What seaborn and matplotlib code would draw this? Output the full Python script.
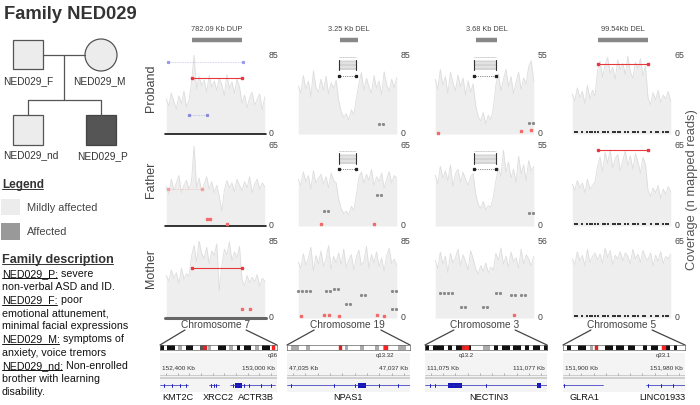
import numpy as np
import pandas as pd
import matplotlib
matplotlib.use("Agg")
import matplotlib.pyplot as plt
from matplotlib.colors import ListedColormap
from matplotlib.patches import Rectangle, Circle
import seaborn as sns

W, H = 700, 405

# ---- data ----
row_names = ["Proband", "Father", "Mother"]
chrom_names = ["Chromosome 7", "Chromosome 19", "Chromosome 3", "Chromosome 5"]
event_names = ["782.09 Kb DUP", "3.25 Kb DEL", "3.68 Kb DEL", "99.54Kb DEL"]
event_start = [10, 16.5, 16, 10]
event_end = [30, 23.5, 24.5, 30]
y_max = [[85, 85, 55, 65], [65, 65, 55, 65], [85, 85, 56, 65]]

prob_chr7 = [38, 30, 44, 35, 27, 41, 33, 46, 29, 36, 55, 85, 48, 62, 52, 58, 45, 63, 50, 57,
             47, 60, 53, 41, 64, 49, 56, 44, 59, 51, 33, 42, 28, 39, 45, 31, 37, 43, 26, 40]
prob_chr19 = [52, 44, 63, 48, 57, 40, 68, 50, 45, 59, 47, 62, 43, 55, 49, 58, 36, 24, 18, 22,
              15, 26, 21, 38, 54, 66, 47, 60, 51, 44, 63, 49, 57, 42, 67, 53, 46, 59, 50, 61]
prob_chr3 = [38, 31, 45, 34, 40, 28, 43, 36, 30, 41, 33, 39, 27, 37, 29, 35, 20, 12, 9, 15,
             7, 13, 10, 18, 34, 42, 30, 38, 45, 33, 40, 28, 36, 43, 31, 39, 35, 47, 51, 37]
prob_chr5 = [33, 27, 38, 30, 35, 25, 40, 29, 36, 31, 52, 60, 47, 57, 63, 50, 55, 45, 61, 53,
             58, 49, 64, 51, 46, 59, 54, 62, 48, 56, 30, 24, 34, 28, 36, 26, 32, 29, 35, 27]
fa_chr7 = [32, 26, 38, 29, 35, 41, 27, 33, 37, 30, 36, 65, 31, 39, 28, 34, 40, 30, 36, 27,
           33, 24, 12, 29, 37, 31, 35, 28, 38, 33, 29, 36, 31, 40, 27, 34, 38, 30, 35, 32]
fa_chr19 = [38, 33, 44, 36, 41, 30, 45, 35, 39, 42, 34, 40, 31, 43, 37, 35, 22, 14, 10, 12,
            9, 16, 13, 25, 39, 44, 35, 42, 37, 46, 33, 40, 36, 43, 31, 38, 44, 35, 41, 39]
fa_chr3 = [35, 29, 41, 33, 38, 31, 42, 27, 36, 39, 30, 37, 32, 28, 34, 36, 22, 15, 12, 17,
           11, 14, 13, 20, 31, 40, 34, 52, 37, 44, 33, 39, 30, 48, 36, 42, 31, 45, 38, 41]
fa_chr5 = [34, 29, 37, 31, 35, 27, 38, 30, 33, 36, 48, 56, 44, 60, 51, 62, 47, 55, 58, 45,
           53, 61, 49, 57, 46, 59, 52, 43, 56, 50, 29, 24, 31, 27, 33, 22, 30, 26, 32, 28]
mo_chr7 = [47, 41, 53, 44, 50, 38, 55, 43, 49, 46, 68, 80, 62, 85, 71, 66, 78, 60, 74, 69,
           82, 30, 58, 76, 70, 84, 63, 73, 67, 79, 42, 36, 47, 39, 45, 40, 48, 35, 44, 41]
mo_chr19 = [62, 55, 71, 58, 66, 78, 52, 69, 60, 74, 57, 65, 80, 54, 68, 61, 72, 59, 76, 56,
            64, 70, 53, 67, 75, 58, 63, 79, 55, 70, 61, 73, 57, 66, 52, 69, 77, 60, 65, 58]
mo_chr3 = [42, 36, 48, 39, 45, 33, 47, 40, 44, 50, 38, 46, 41, 35, 49, 43, 36, 32, 38, 34,
           40, 33, 37, 35, 47, 42, 51, 39, 45, 37, 48, 41, 44, 36, 50, 39, 46, 43, 38, 45]
mo_chr5 = [50, 45, 56, 48, 53, 44, 58, 47, 52, 55, 49, 54, 46, 59, 51, 57, 45, 53, 50, 56,
           48, 55, 52, 46, 58, 50, 54, 47, 57, 51, 49, 55, 44, 53, 48, 56, 46, 52, 50, 54]

coverage = [[prob_chr7, prob_chr19, prob_chr3, prob_chr5],
            [fa_chr7, fa_chr19, fa_chr3, fa_chr5],
            [mo_chr7, mo_chr19, mo_chr3, mo_chr5]]

# CNV calls (row, col, reads level)
cnv_calls = [(0, 0, 60), (0, 3, 58), (1, 3, 62), (2, 0, 55)]
# split-read glyphs above deletions (row, col)
del_glyphs = [(0, 1), (0, 2), (1, 1), (1, 2)]
# small paired gray dots (row, col, pos, reads)
gray_pairs = [(0, 1, 32, 11), (0, 2, 37, 8), (1, 1, 10, 12), (1, 1, 31, 25), (1, 2, 37, 9),
              (2, 1, 0, 30), (2, 1, 3, 30), (2, 1, 11, 30), (2, 1, 14, 32), (2, 1, 19, 16),
              (2, 1, 25, 25), (2, 1, 37, 30), (2, 1, 37, 10), (2, 2, 2, 18), (2, 2, 5, 18),
              (2, 2, 10, 8), (2, 2, 19, 8), (2, 2, 24, 18), (2, 2, 30, 17), (2, 2, 34, 17)]
# red marks (row, col, pos, reads)
red_marks = [(0, 2, 1, 1), (0, 2, 34, 2), (0, 2, 38, 3), (1, 0, 16, 6), (1, 0, 17.5, 6),
             (1, 0, 24, 2), (1, 1, 9, 2), (1, 1, 30, 2), (2, 0, 30, 10), (2, 0, 33, 10),
             (2, 1, 1, 2), (2, 1, 10, 3), (2, 1, 12, 3), (2, 1, 16, 2), (2, 1, 31, 3),
             (2, 1, 34, 2), (2, 2, 31, 2)]
bottom_dots = [1, 2, 4, 6, 7, 8, 9, 10, 12, 13, 14, 16, 17, 18, 19, 21, 22, 24, 25, 26,
               28, 29, 31, 33, 34, 36, 37, 38]

band_labels = ["q36", "q13.32", "q13.2", "q33.1"]
chr7_bands = [1, 0, 1, 1, 0, 2, 0, 1, 1, 0, 0, 3, 0, 2, 0, 0, 1, 1, 0, 2, 0, 1, 0, 1, 1, 0, 2, 0, 1, 1, 0, 0]
chr19_bands = [0, 2, 2, 0, 0, 2, 0, 0, 0, 0, 0, 0, 0, 0, 0, 2, 0, 0, 0, 2, 0, 0, 0, 2, 0, 2, 0, 0, 0, 2, 2, 0]
chr3_bands = [1, 0, 1, 1, 1, 0, 1, 0, 1, 1, 0, 1, 0, 0, 0, 2, 2, 0, 1, 0, 1, 1, 0, 1, 1, 0, 1, 0, 1, 1, 0, 1]
chr5_bands = [0, 1, 0, 0, 1, 1, 0, 2, 0, 0, 0, 1, 1, 0, 1, 1, 0, 1, 1, 0, 0, 1, 0, 1, 1, 0, 0, 1, 0, 1, 0, 0]
centromere_at = [0.38, 0.43, 0.31, 0.27]
locus_at = [0.965, 0.80, 0.34, 0.82]
kb_left = ["152,400 Kb", "47,035 Kb", "111,075 Kb", "151,900 Kb"]
kb_right = ["153,000 Kb", "47,037 Kb", "111,077 Kb", "151,980 Kb"]
gene_names = [["KMT2C", "XRCC2", "ACTR3B"], ["NPAS1"], ["NECTIN3"], ["GLRA1", "LINC01933"]]
gene_label_x = [[0.15, 0.5, 0.82], [0.5], [0.52], [0.18, 0.81]]
gene_spans = [[(0.0, 0.24), (0.42, 0.5), (0.6, 0.98)], [(0.0, 1.0)], [(0.0, 1.0)], [(0.0, 0.33), (0.68, 1.0)]]
gene_exons = [[0.03, 0.1, 0.17, 0.22, 0.44, 0.46, 0.48, 0.62, 0.66, 0.68, 0.72, 0.76, 0.86, 0.95],
              [0.03, 0.38, 0.55, 0.75, 0.9],
              [0.04, 0.08, 0.2, 0.23, 0.26, 0.28, 0.5, 0.93],
              [0.01, 0.7, 0.8, 0.9]]
gene_blocks = [[(0.64, 0.7)], [(0.58, 0.64)], [(0.19, 0.3), (0.92, 0.95)], []]

# ---- style ----
sns.set_theme(style="white")
plt.rcParams["font.family"] = ["Liberation Sans", "DejaVu Sans"]
TXT = "#333333"

fig = plt.figure(figsize=(7, 4.05), dpi=100)
ov = fig.add_axes([0, 0, 1, 1])
ov.set_xlim(0, W)
ov.set_ylim(H, 0)
ov.axis("off")
renderer = fig.canvas.get_renderer()


def px_axes(x, y, w, h):
    a = fig.add_axes([x / W, 1 - (y + h) / H, w / W, h / H])
    a.patch.set_alpha(0)
    return a


def text_box(t):
    bb = t.get_window_extent(renderer)
    inv = ov.transData.inverted()
    (x0, y0), (x1, y1) = inv.transform([[bb.x0, bb.y0], [bb.x1, bb.y1]])
    return x0, x1, max(y0, y1)


def underline_text(x, y, s, rest="", **kw):
    t = ov.text(x, y, s, **kw)
    x0, x1, _ = text_box(t)
    ov.plot([x0, x1 - 1], [y + 1.3, y + 1.3], color=kw.get("color", TXT), lw=0.7)
    if rest:
        ov.text(x1, y, rest, **kw)


# ---- title and pedigree ----
ov.text(4, 19, "Family NED029", fontsize=13.2, fontweight="bold", color=TXT)
ped_fc = "#ececec"
ov.add_patch(Rectangle((13, 40), 30, 29, fc=ped_fc, ec="#555555", lw=0.9))
ov.add_patch(Circle((101, 55), 16, fc=ped_fc, ec="#555555", lw=0.9))
ov.plot([43, 85], [55, 55], color="#555555", lw=0.9)
ov.plot([64, 64], [55, 100], color="#555555", lw=0.9)
ov.plot([28, 101, 101], [100, 100, 115], color="#555555", lw=0.9)
ov.plot([28, 28], [100, 115], color="#555555", lw=0.9)
ov.add_patch(Rectangle((13, 115), 30, 30, fc=ped_fc, ec="#555555", lw=0.9))
ov.add_patch(Rectangle((86, 115), 30, 30, fc="#555555", ec="#444444", lw=0.9))
for x, y, s in [(3, 84, "NED029_F"), (73, 84, "NED029_M"), (3, 158, "NED029_nd"), (77, 159, "NED029_P")]:
    ov.text(x, y, s, fontsize=7.3, color=TXT)

# ---- legend ----
underline_text(2, 188, "Legend", fontsize=8.5, fontweight="bold", color=TXT)
ov.add_patch(Rectangle((1, 199), 19, 16, fc="#ececec", ec="none"))
ov.add_patch(Rectangle((1, 223), 19, 17, fc="#999999", ec="none"))
ov.text(27, 211, "Mildly affected", fontsize=7.9, color="#444444")
ov.text(27, 235, "Affected", fontsize=7.9, color="#444444")

# ---- family description ----
underline_text(2, 263, "Family description", fontsize=9.1, fontweight="bold", color=TXT)
desc = [("NED029_P:", " severe"), ("", "non-verbal ASD and ID."), ("NED029_F:", " poor"),
        ("", "emotional attunement,"), ("", "minimal facial expressions"),
        ("NED029_M:", " symptoms of"), ("", "anxiety, voice tremors"),
        ("NED029_nd:", " Non-enrolled"), ("", "brother with learning"), ("", "disability.")]
for i, (u, rest) in enumerate(desc):
    y = 277 + i * 13.1
    if u:
        underline_text(2, y, u, rest, fontsize=7.7, color="#111111")
    else:
        ov.text(2, y, rest, fontsize=7.7, color="#111111")

# ---- coverage panels ----
col_x = [165, 297, 434, 571]
col_w = 101
row_y = [55, 146, 241]
row_h = [79, 80, 77]
row_label_y = [88, 180, 268]
axes = [[None] * 4 for _ in range(3)]


def read_glyph(ax, x0, x1, top, step):
    tr = ax.get_xaxis_transform()
    ax.plot([x0, x1], [top, top], color="#999999", lw=0.4, ls=(0, (2, 1)), transform=tr, clip_on=False)
    ax.fill_between([x0, x1], top - 3.2 * step, top - step, color="#e2e2e2", transform=tr, lw=0)
    for k in range(1, 4):
        ax.plot([x0, x1], [top - k * step] * 2, color="#aaaaaa", lw=0.35, transform=tr)
    ax.plot([x0, x0], [top - 3.2 * step, top - 0.6 * step], color="#333333", lw=0.8, transform=tr)
    ax.plot([x1, x1], [top - 3.2 * step, top - 0.6 * step], color="#333333", lw=0.8, transform=tr)
    ax.plot([x0, x1], [top - 4.6 * step] * 2, color="#222222", lw=0.5, ls=":", marker="s",
            ms=1.4, transform=tr)


for r in range(3):
    for c in range(4):
        ax = px_axes(col_x[c], row_y[r], col_w, row_h[r])
        axes[r][c] = ax
        vals = coverage[r][c]
        df = pd.DataFrame({"pos": np.arange(len(vals)), "reads": vals})
        ax.fill_between(df["pos"], df["reads"], color="#eeeeee", lw=0)
        sns.lineplot(data=df, x="pos", y="reads", ax=ax, color="#dddddd", lw=0.6)
        ax.set_xlim(-0.5, len(vals) - 0.5)
        ax.set_ylim(0, y_max[r][c])
        ax.axis("off")
        ax.text(1.025, 1.0, str(y_max[r][c]), transform=ax.transAxes, fontsize=6.3,
                color="#444444", va="center", ha="left")
        ax.text(1.025, 0.0, "0", transform=ax.transAxes, fontsize=6.3,
                color="#444444", va="center", ha="left")
        if c == 3:
            dots = pd.DataFrame({"pos": bottom_dots, "reads": [y_max[r][c] * 0.02] * len(bottom_dots)})
            sns.scatterplot(data=dots, x="pos", y="reads", ax=ax, color="#333333", s=2.5,
                            marker="s", linewidth=0, clip_on=False)
    ov.text(151, row_label_y[r], row_names[r], rotation=90, fontsize=9, color="#444444",
            ha="center", va="center")

# bottom lines
for r in (0, 1):
    axes[r][0].axhline(0, color="#111111", lw=1.2, clip_on=False)
axes[2][0].axhline(0, color="#666666", lw=2.2, clip_on=False)

# event bars above the proband row
for c in range(4):
    ax = axes[0][c]
    tr = ax.get_xaxis_transform()
    ax.plot([event_start[c], event_end[c]], [1.19, 1.19], color="#888888", lw=3.2,
            transform=tr, clip_on=False, solid_capstyle="butt")
    ax.text((event_start[c] + event_end[c]) / 2, 1.32, event_names[c], transform=tr,
            fontsize=5.3, color="#444444", ha="center", va="center")

# CNV calls
for r, c, lvl in cnv_calls:
    axes[r][c].plot([event_start[c], event_end[c]], [lvl, lvl], color="#e8383d", lw=0.8,
                    marker="s", ms=1.8)
axes[0][0].plot([0.5, 30.5], [78, 78], color="#9999ee", lw=0.45, ls=":", marker="s", ms=1.3)
axes[0][0].plot([9, 16], [20, 20], color="#8888dd", lw=0.45, ls=":", marker="s", ms=1.3)
axes[1][0].plot([0.5, 14], [30, 30], color="#f4a0a0", lw=0.45, ls=":", marker="s", ms=1.5)

for r, c in del_glyphs:
    read_glyph(axes[r][c], event_start[c] - 0.5, event_end[c] - 0.5, 0.97 if r == 0 else 0.94, 0.05)

for r, c, p, v in gray_pairs:
    axes[r][c].plot([p, p + 1.6], [v, v], color="#888888", lw=0.35, ls=":", marker="s", ms=1.1)
for r, c, p, v in red_marks:
    axes[r][c].plot([p], [v], color="#f26b6b", marker="s", ms=1.6, clip_on=False)

ov.text(692, 190, "Coverage (n mapped reads)", rotation=90, fontsize=9.3, color="#555555",
        ha="center", va="center")

# ---- chromosome labels, ideograms, gene tracks ----
igv_x = [(160, 277), (287, 410), (425, 547), (563, 685)]
bands = [chr7_bands, chr19_bands, chr3_bands, chr5_bands]
band_cmap = ListedColormap(["#ffffff", "#111111", "#aaaaaa", "#555555"])
for c in range(4):
    xc = col_x[c] + col_w / 2
    t = ov.text(xc, 328, chrom_names[c], fontsize=7.3, color="#444444", ha="center")
    x0, x1, _ = text_box(t)
    g0, g1 = igv_x[c]
    ov.plot([x0 + 4, g0], [330, 345], color="#444444", lw=0.9)
    ov.plot([x1 - 4, g1], [330, 345], color="#444444", lw=0.9)

    ov.add_patch(Rectangle((g0, 353), g1 - g0, 39, fc="#f4f4f4", ec="none"))

    ia = px_axes(g0, 345, g1 - g0, 5)
    ia.imshow(np.array([bands[c]]), cmap=band_cmap, vmin=0, vmax=3, aspect="auto",
              extent=[0, 1, 0, 1])
    ia.axvspan(centromere_at[c] - 0.01, centromere_at[c] + 0.01, color="#d62728")
    ia.axvspan(locus_at[c] - 0.012, locus_at[c] + 0.012, color="#ff2020")
    ia.set_xlim(0, 1)
    ia.set_ylim(0, 1)
    ia.set_xticks([])
    ia.set_yticks([])
    for s in ia.spines.values():
        s.set_color("#666666")
        s.set_linewidth(0.5)
    ia.text(locus_at[c], -0.7, band_labels[c], transform=ia.transAxes, fontsize=4.3,
            color="#333333", ha="center", va="top")

    ga = px_axes(g0, 362, g1 - g0, 32)
    ga.set_xlim(0, 1)
    ga.set_ylim(32, 0)
    ga.axis("off")
    ga.text(0.02, 6, kb_left[c], fontsize=4.6, color="#333333", ha="left", va="center")
    ga.text(0.98, 6, kb_right[c], fontsize=4.6, color="#333333", ha="right", va="center")
    ga.plot([0, 1], [12.5, 12.5], color="#bbbbbb", lw=0.5)
    for tx in np.linspace(0.05, 0.95, 10):
        ga.plot([tx, tx], [10.5, 12.5], color="#888888", lw=0.4)
    ga.plot([0, 1], [16, 16], color="#c8c8c8", lw=1.2)
    for a, b in gene_spans[c]:
        ga.plot([a, b], [23, 23], color="#2222bb", lw=0.5)
    for e in gene_exons[c]:
        ga.plot([e, e], [21.5, 24.5], color="#2222bb", lw=0.7)
    for a, b in gene_blocks[c]:
        ga.add_patch(Rectangle((a, 20.5), b - a, 5, fc="#1515b5", ec="none"))
    for name, nx in zip(gene_names[c], gene_label_x[c]):
        ov.text(g0 + nx * (g1 - g0), 400, name, fontsize=6.6, color="#111111", ha="center")

fig.savefig("out.png", dpi=100)
